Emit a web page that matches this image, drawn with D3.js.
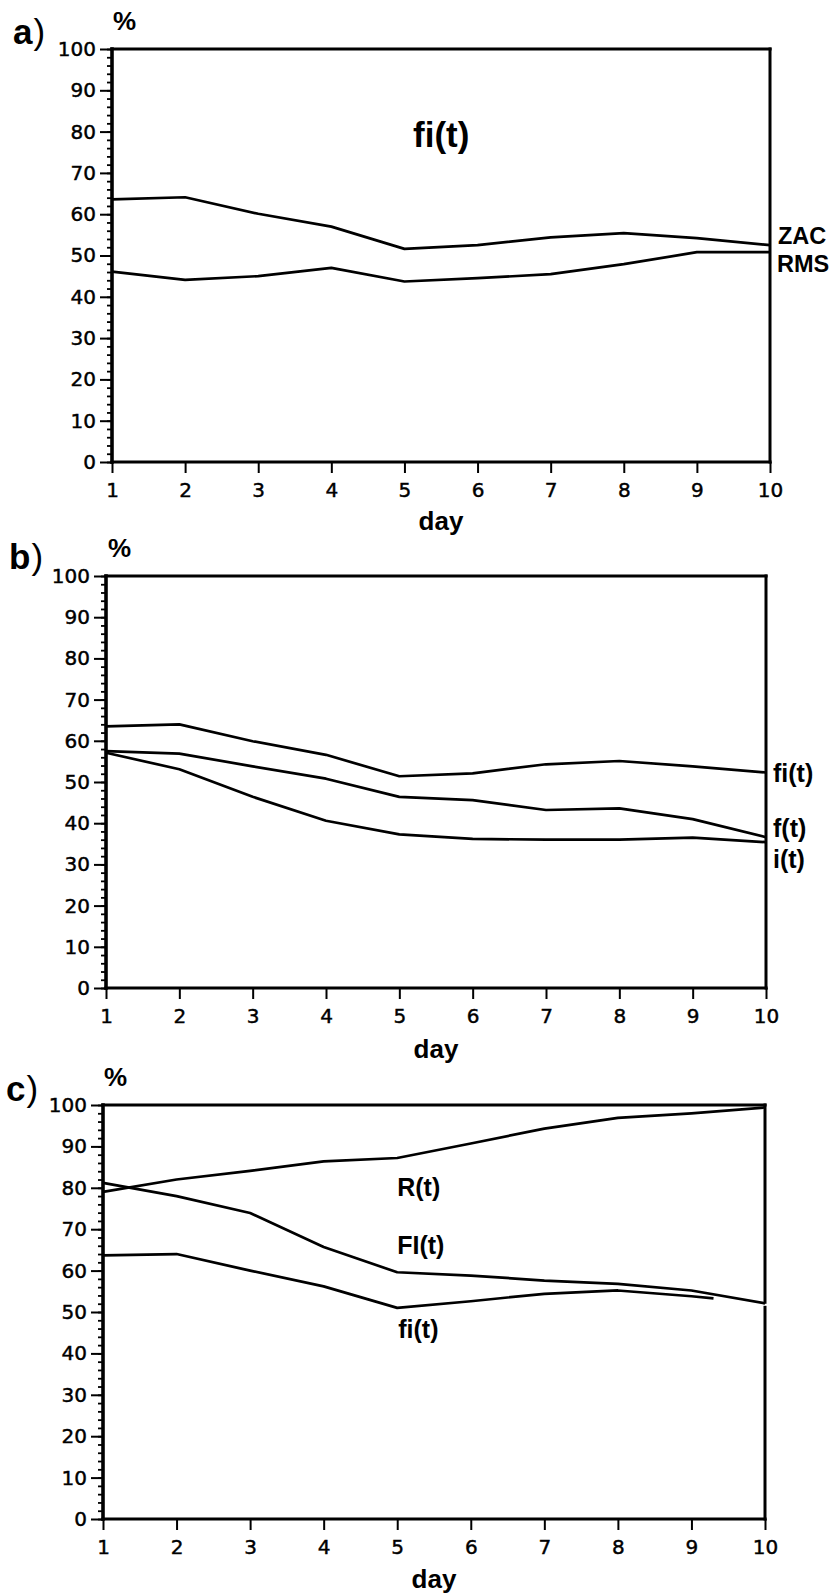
<!DOCTYPE html>
<html><head><meta charset="utf-8">
<script src="https://cdn.jsdelivr.net/npm/d3@7"></script>
<style>body{margin:0;background:#fff} svg{display:block}</style>
</head><body>
<svg id="chart" width="838" height="1595"></svg>
<script>
// ---- data ----
const days = [1, 2, 3, 4, 5, 6, 7, 8, 9, 10];
const yTickValues = [0, 10, 20, 30, 40, 50, 60, 70, 80, 90, 100];
const dayTickLabels = ["1", "2", "3", "4", "5", "6", "7", "8", "9", "10"];

// panel a
const zacA = [63.6, 64.1, 60.1, 57.0, 51.6, 52.5, 54.4, 55.4, 54.2, 52.5];
const rmsA = [46.1, 44.1, 45.0, 47.0, 43.7, 44.5, 45.5, 47.9, 50.8, 50.8];
// panel b
const fiB = [63.5, 64.0, 59.9, 56.6, 51.4, 52.1, 54.3, 55.1, 53.8, 52.3];
const fB  = [57.5, 56.9, 53.8, 50.8, 46.4, 45.6, 43.2, 43.6, 41.0, 36.6];
const iB  = [57.1, 53.1, 46.4, 40.6, 37.3, 36.2, 36.0, 36.0, 36.5, 35.4];
// panel c
const rC  = [79.0, 82.0, 84.1, 86.4, 87.2, 90.7, 94.3, 96.9, 98.0, 99.4];
const FIc = [81.2, 78.0, 73.9, 65.7, 59.6, 58.8, 57.6, 56.8, 55.2, 52.1];
const fiCDays = [1, 2, 3, 4, 5, 6, 7, 8, 9, 9.3];
const fiC = [63.7, 64.0, 60.0, 56.2, 51.0, 52.6, 54.4, 55.2, 53.8, 53.3];

// ---- drawing ----
const svg = d3.select("#chart");
const LABEL_FONT = "'Liberation Sans', Arial, Helvetica, sans-serif";
const TICK_FONT = "'DejaVu Sans', sans-serif";

function styleTickText(sel) {
  sel.attr("font-family", TICK_FONT).attr("font-size", 20).attr("fill", "#000")
    .attr("stroke", "#000").attr("stroke-width", 0.45);
}

function drawPanel(cfg) {
  const x = d3.scaleLinear().domain([1, 10]).range([cfg.left, cfg.right]);
  const y = d3.scaleLinear().domain([0, 100]).range([cfg.bottom, cfg.top]);
  const g = svg.append("g");

  // minor y ticks
  const minor = g.append("g").attr("transform", `translate(${cfg.left},0)`)
    .call(d3.axisLeft(y).tickValues(d3.range(0, 101, 2)).tickSize(5).tickFormat(""));
  minor.select(".domain").remove();
  minor.selectAll("line").attr("stroke", "#000").attr("stroke-width", 1.8);

  // major y ticks
  const yAx = g.append("g").attr("transform", `translate(${cfg.left},0)`)
    .call(d3.axisLeft(y).tickValues(yTickValues).tickSize(12).tickPadding(4));
  yAx.select(".domain").remove();
  yAx.selectAll("line").attr("stroke", "#000").attr("stroke-width", 2);
  styleTickText(yAx.selectAll("text"));

  // x ticks
  const xAx = g.append("g").attr("transform", `translate(0,${cfg.bottom})`)
    .call(d3.axisBottom(x).tickValues(days).tickSize(11).tickPadding(10)
      .tickFormat((d, i) => dayTickLabels[i]));
  xAx.select(".domain").remove();
  xAx.selectAll("line").attr("stroke", "#000").attr("stroke-width", 2);
  styleTickText(xAx.selectAll("text"));

  // frame
  const fr = g.append("g").attr("stroke", "#000").attr("stroke-linecap", "square");
  fr.append("line").attr("x1", cfg.left).attr("x2", cfg.right).attr("y1", cfg.top).attr("y2", cfg.top).attr("stroke-width", 3.2);
  fr.append("line").attr("x1", cfg.left).attr("x2", cfg.right).attr("y1", cfg.bottom).attr("y2", cfg.bottom).attr("stroke-width", 3.2);
  fr.append("line").attr("x1", cfg.left).attr("x2", cfg.left).attr("y1", cfg.top).attr("y2", cfg.bottom).attr("stroke-width", 3.6);
  if (cfg.rightGapAt != null) {
    const gy = y(cfg.rightGapAt);
    fr.append("line").attr("x1", cfg.right).attr("x2", cfg.right).attr("y1", cfg.top).attr("y2", gy - 1).attr("stroke-width", 3);
    fr.append("line").attr("x1", cfg.right).attr("x2", cfg.right).attr("y1", gy + 4).attr("y2", cfg.bottom).attr("stroke-width", 3);
  } else {
    fr.append("line").attr("x1", cfg.right).attr("x2", cfg.right).attr("y1", cfg.top).attr("y2", cfg.bottom).attr("stroke-width", 3);
  }

  // series lines
  const line = d3.line().x(d => x(d[0])).y(d => y(d[1])).curve(d3.curveLinear);
  cfg.series.forEach(s => {
    const xs = s.days || days;
    g.append("path").datum(xs.map((d, i) => [d, s.values[i]]))
      .attr("d", line).attr("fill", "none").attr("stroke", "#000")
      .attr("stroke-width", 2.7).attr("stroke-linejoin", "round");
  });

  // series labels
  cfg.labels.forEach(l => {
    g.append("text")
      .attr("x", l.atRight ? cfg.right + l.dx : x(l.day) + (l.dx || 0))
      .attr("y", y(l.value)).attr("dy", "0.36em")
      .attr("font-family", LABEL_FONT).attr("font-weight", "bold")
      .attr("font-size", l.size || 25).attr("fill", "#000").text(l.text);
  });

  // % label
  g.append("text").attr("x", cfg.left + cfg.pctDx).attr("y", cfg.top - 19)
    .attr("font-family", LABEL_FONT).attr("font-weight", "bold").attr("font-size", 26)
    .attr("fill", "#000").text("%");

  // day label
  g.append("text").attr("x", (cfg.left + cfg.right) / 2).attr("y", cfg.dayY)
    .attr("text-anchor", "middle")
    .attr("font-family", LABEL_FONT).attr("font-weight", "bold").attr("font-size", 26)
    .attr("fill", "#000").text("day");

  // panel letter
  const t = g.append("text").attr("x", cfg.letterX).attr("y", cfg.letterY)
    .attr("font-family", LABEL_FONT).attr("font-size", 35).attr("fill", "#000");
  t.append("tspan").attr("font-weight", "bold").text(cfg.letter);
  t.append("tspan").attr("font-weight", "normal").attr("dx", 1).text(")");

  return { x, y, g };
}

const pa = drawPanel({
  left: 112, right: 770, top: 49, bottom: 462, dayY: 530,
  pctDx: 1, letter: "a", letterX: 13, letterY: 44,
  series: [{ values: zacA }, { values: rmsA }],
  labels: [
    { text: "ZAC", atRight: true, dx: 8, value: 54.9, size: 23.5 },
    { text: "RMS", atRight: true, dx: 7, value: 48.0, size: 23.5 }
  ]
});
pa.g.append("text").attr("x", 413).attr("y", 147)
  .attr("font-family", LABEL_FONT).attr("font-weight", "bold").attr("font-size", 35)
  .attr("fill", "#000").text("fi(t)");

drawPanel({
  left: 106, right: 766, top: 576, bottom: 988, dayY: 1058,
  pctDx: 2, letter: "b", letterX: 9, letterY: 569,
  series: [{ values: fiB }, { values: fB }, { values: iB }],
  labels: [
    { text: "fi(t)", atRight: true, dx: 7, value: 52.2 },
    { text: "f(t)", atRight: true, dx: 7, value: 38.8 },
    { text: "i(t)", atRight: true, dx: 7, value: 31.3 }
  ]
});

drawPanel({
  left: 103, right: 765, top: 1105, bottom: 1519, dayY: 1588,
  pctDx: 1, letter: "c", letterX: 6, letterY: 1101,
  rightGapAt: FIc[FIc.length - 1],
  series: [{ values: rC }, { values: FIc }, { values: fiC, days: fiCDays }],
  labels: [
    { text: "R(t)", day: 5, dx: 0, value: 80.2 },
    { text: "FI(t)", day: 5, dx: 0, value: 66.2 },
    { text: "fi(t)", day: 5, dx: 1, value: 45.9 }
  ]
});
</script>
</body></html>
